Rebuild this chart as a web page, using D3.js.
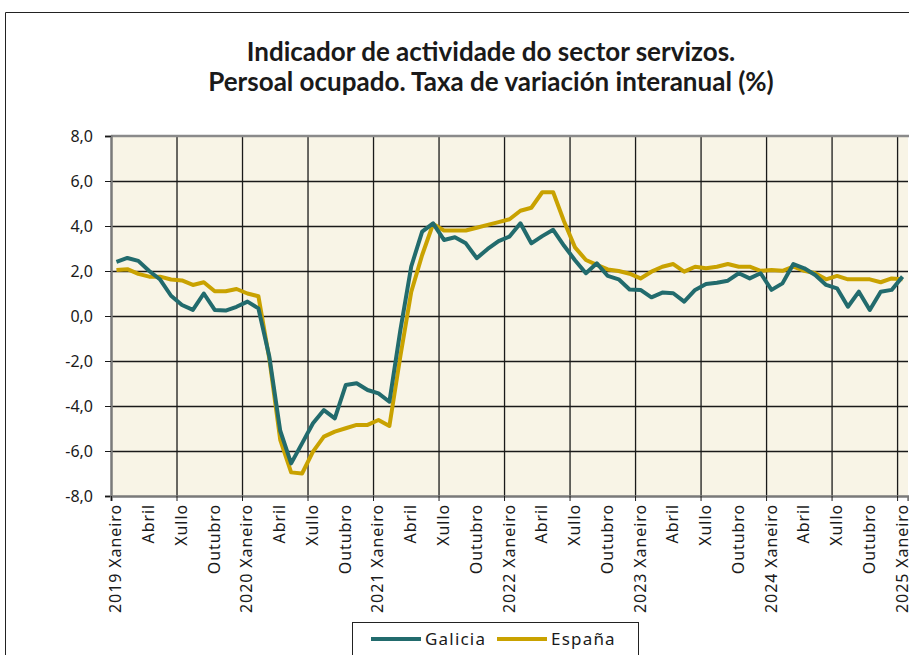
<!DOCTYPE html>
<html lang="gl">
<head>
<meta charset="UTF-8">
<title>Indicador de actividade do sector servizos</title>
<style>
  body { margin: 0; background: #fff; }
  svg text { font-family: "Noto Sans", Lato, sans-serif; fill: #1a1a1a; }
</style>
</head>
<body>
<script src="https://cdn.jsdelivr.net/npm/d3@7/dist/d3.min.js"></script>
<script>
// Data (monthly, Xaneiro 2019 - Xaneiro 2025)
const years = [2019, 2020, 2021, 2022, 2023, 2024, 2025];
const monthNames = ["Xaneiro", "Febreiro", "Marzo", "Abril", "Maio", "Xuño",
                    "Xullo", "Agosto", "Setembro", "Outubro", "Novembro", "Decembro"];
const yTicks = [-8, -6, -4, -2, 0, 2, 4, 6, 8];
const seriesNames = ["Galicia", "España"];
const seriesColors = ["#226b6d", "#c9a200"];

const galicia = [
  2.41, 2.58, 2.45, 2.00, 1.62, 0.90, 0.49, 0.27, 1.00, 0.27, 0.24, 0.41,
  0.64, 0.34, -1.80, -5.10, -6.55, -5.66, -4.77, -4.18, -4.55, -3.07, -2.99, -3.29,
  -3.44, -3.81, -0.64, 2.20, 3.75, 4.12, 3.38, 3.50, 3.23, 2.57, 2.98, 3.33,
  3.53, 4.12, 3.23, 3.55, 3.83, 3.12, 2.48, 1.90, 2.34, 1.78, 1.63, 1.18,
  1.16, 0.83, 1.04, 1.01, 0.64, 1.16, 1.42, 1.48, 1.57, 1.90, 1.67, 1.90,
  1.16, 1.45, 2.31, 2.12, 1.82, 1.38, 1.23, 0.41, 1.08, 0.27, 1.08, 1.16,
  1.75
];
const espana = [
  2.04, 2.08, 1.87, 1.75, 1.75, 1.62, 1.58, 1.38, 1.50, 1.10, 1.10, 1.20,
  1.00, 0.88, -1.90, -5.50, -6.95, -7.00, -6.03, -5.36, -5.14, -4.99, -4.84, -4.84,
  -4.62, -4.89, -1.80, 1.07, 2.71, 4.09, 3.80, 3.80, 3.80, 3.92, 4.05, 4.17,
  4.30, 4.68, 4.81, 5.50, 5.50, 4.20, 3.05, 2.49, 2.27, 2.07, 2.00, 1.88,
  1.67, 1.97, 2.19, 2.31, 1.97, 2.19, 2.12, 2.19, 2.31, 2.19, 2.19, 2.01,
  2.04, 2.01, 2.19, 2.01, 1.90, 1.63, 1.78, 1.63, 1.63, 1.63, 1.50, 1.67,
  1.63
];

// categories: "2019 Xaneiro", "Febreiro", ... one per month
const categories = [];
years.forEach(function (yr) {
  monthNames.forEach(function (m, k) {
    if (categories.length < galicia.length) categories.push(k === 0 ? yr + " " + m : m);
  });
});

const W = 909, H = 655;
const plot = {left: 111, right: 908, top: 136, bottom: 496};

const svg = d3.select("body").append("svg")
    .attr("width", W)
    .attr("height", H);

// outer chart frame
svg.append("path")
    .attr("d", "M5.5," + H + "V12.5H" + W)
    .attr("fill", "none")
    .attr("stroke", "#222")
    .attr("stroke-width", 1);

// title
const title = svg.append("text")
    .attr("text-anchor", "middle")
    .style("font-family", "Lato, sans-serif")
    .style("font-size", "26px")
    .style("font-weight", "bold");
title.append("tspan").attr("x", 491).attr("y", 61)
    .text("Indicador de actividade do sector servizos.");
title.append("tspan").attr("x", 491).attr("y", 91)
    .text("Persoal ocupado. Taxa de variación interanual (%)");

// scales
const x = d3.scaleLinear()
    .domain([0, categories.length])
    .range([plot.left, plot.right]);
const y = d3.scaleLinear()
    .domain([-8, 8])
    .range([plot.bottom, plot.top]);

// plot background
svg.append("rect")
    .attr("x", plot.left)
    .attr("y", plot.top)
    .attr("width", plot.right - plot.left)
    .attr("height", plot.bottom - plot.top)
    .attr("fill", "#f8f4e6");

// horizontal gridlines
svg.append("g")
    .attr("transform", "translate(" + plot.left + ",0)")
    .call(d3.axisLeft(y).tickValues(yTicks.slice(1, -1))
        .tickSize(-(plot.right - plot.left)).tickFormat(""))
    .call(g => g.select(".domain").remove())
    .selectAll("line").attr("stroke", "#1a1a1a").attr("stroke-width", 1.3);

// vertical gridlines every 6 months
svg.append("g")
    .attr("transform", "translate(0," + plot.bottom + ")")
    .call(d3.axisBottom(x).tickValues(d3.range(6, categories.length, 6))
        .tickSize(-(plot.bottom - plot.top)).tickFormat(""))
    .call(g => g.select(".domain").remove())
    .selectAll("line").attr("stroke", "#1a1a1a").attr("stroke-width", 1.3);

// top border
svg.append("line")
    .attr("x1", plot.left).attr("x2", W)
    .attr("y1", plot.top).attr("y2", plot.top)
    .attr("stroke", "#8a8a8a").attr("stroke-width", 2.5);

// y axis
const fmt = d => (d < 0 ? "-" : "") + Math.abs(d).toFixed(1).replace(".", ",");
svg.append("g")
    .attr("transform", "translate(" + plot.left + ",0)")
    .call(d3.axisLeft(y).tickValues(yTicks).tickFormat(fmt).tickSize(6).tickPadding(12))
    .call(g => g.select(".domain").attr("stroke", "#7a7a7a").attr("stroke-width", 2.5))
    .call(g => g.selectAll("line").attr("stroke", "#1a1a1a"))
    .call(g => g.selectAll("text").style("font-family", "'Noto Sans', sans-serif")
        .style("font-size", "16px").attr("fill", "#1a1a1a"));

// x axis: ticks every 6 months, labels every 3 months
svg.append("g")
    .attr("transform", "translate(0," + plot.bottom + ")")
    .call(d3.axisBottom(x).tickValues(d3.range(0, categories.length + 1, 6))
        .tickSize(5).tickFormat(""))
    .call(g => g.select(".domain").attr("stroke", "#7a7a7a").attr("stroke-width", 2.5))
    .call(g => g.selectAll("line").attr("stroke", "#1a1a1a"));

const labelIdx = d3.range(0, categories.length, 3);
svg.append("g")
    .selectAll("text")
    .data(labelIdx)
    .join("text")
    .attr("transform", i => "translate(" + (x(i + 0.5) + 5) + "," + (plot.bottom + 8) + ") rotate(-90)")
    .attr("text-anchor", "end")
    .style("font-size", "16px")
    .style("letter-spacing", "0.9px")
    .text(i => categories[i]);

// lines
const line = d3.line()
    .x((d, i) => x(i + 0.5))
    .y(d => y(d));

[[espana, 1], [galicia, 0]].forEach(function (s) {
  svg.append("path")
      .datum(s[0])
      .attr("fill", "none")
      .attr("stroke", seriesColors[s[1]])
      .attr("stroke-width", 4)
      .attr("stroke-linejoin", "round")
      .attr("d", line);
});

// legend
const legend = svg.append("g");
legend.append("rect")
    .attr("x", 352.5).attr("y", 622.5)
    .attr("width", 286).attr("height", 40)
    .attr("fill", "#fff").attr("stroke", "#222");
const items = [
  {name: seriesNames[0], color: seriesColors[0], x: 371},
  {name: seriesNames[1], color: seriesColors[1], x: 497}
];
items.forEach(function (it) {
  legend.append("line")
      .attr("x1", it.x).attr("x2", it.x + 50)
      .attr("y1", 639).attr("y2", 639)
      .attr("stroke", it.color).attr("stroke-width", 4);
  legend.append("text")
      .attr("x", it.x + 54).attr("y", 645)
      .style("font-size", "17px")
      .style("letter-spacing", "1.2px")
      .text(it.name);
});
</script>
</body>
</html>
